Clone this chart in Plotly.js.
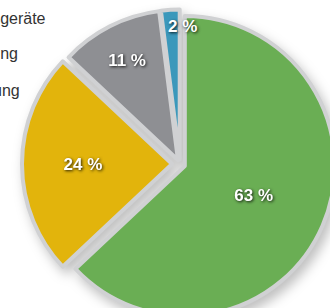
<!DOCTYPE html>
<html>
<head>
<meta charset="utf-8">
<script src="https://cdn.plot.ly/plotly-3.0.1.min.js"></script>
<style>
html, body { margin: 0; padding: 0; width: 330px; height: 308px; overflow: hidden; background: #fff; }
#chart { position: absolute; left: 0; top: 0; width: 360px; height: 330px; }
</style>
</head>
<body>
<div id="chart"></div>
<script>
// Data
const categories = ["Raumwärme", "Haushaltsgeräte", "Beleuchtung", "Raumlüftung"];
const shares = [63, 24, 11, 2];
const sliceColors = ["#6aae54", "#e2b40c", "#8e8f93", "#3b98bb"];
const pulls = [0.035, 0.053, 0.03, 0.03];

const W = 360, H = 330;
const px = x => x / W;
const py = y => 1 - y / H;
const labelFont = { family: 'Liberation Sans, Arial, sans-serif', size: 17, color: '#ffffff', weight: 'bold',
                    shadow: '1px 1px 3px rgba(0,0,0,0.85)' };

const legendAnnotations = categories.map((c, i) => ({
  text: c,
  xref: 'paper', yref: 'paper',
  x: px(-73), y: py(-18 + 36 * i),
  xanchor: 'left', yanchor: 'middle',
  showarrow: false,
  font: { family: 'Liberation Sans, Arial, sans-serif', size: 16, color: '#333333' }
}));

// the smallest slice's label sits on the rim (too small for inside text)
const smallLabel = {
  text: shares[3] + ' %',
  xref: 'paper', yref: 'paper',
  x: px(182), y: py(27),
  xanchor: 'center', yanchor: 'middle',
  showarrow: false,
  font: labelFont
};

const trace = {
  type: 'pie',
  labels: categories,
  values: shares,
  sort: false,
  direction: 'clockwise',
  rotation: 0,
  pull: pulls,
  marker: { colors: sliceColors, line: { color: '#d0d1d3', width: 4 } },
  texttemplate: ['%{value} %', '%{value} %', '%{value} %', ''],
  textposition: 'inside',
  insidetextorientation: 'horizontal',
  textfont: labelFont,
  hoverinfo: 'none',
  showlegend: false,
  domain: { x: [px(22), px(338)], y: [py(322), py(6)] }
};

const layout = {
  width: W, height: H,
  margin: { l: 0, r: 0, t: 0, b: 0 },
  paper_bgcolor: '#ffffff',
  showlegend: false,
  annotations: legendAnnotations.concat([smallLabel])
};

Plotly.newPlot('chart', [trace], layout, { displayModeBar: false, staticPlot: true }).then(() => {
  const pl = document.querySelector('.pielayer');
  if (pl) pl.style.filter = 'drop-shadow(4px 6px 6px rgba(0,0,0,0.25))';
});
</script>
</body>
</html>
